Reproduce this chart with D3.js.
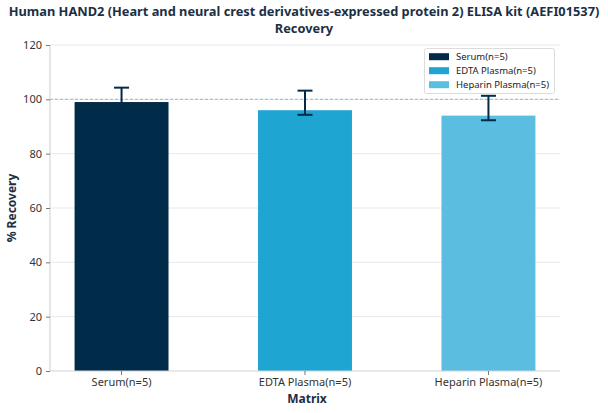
<!DOCTYPE html>
<html>
<head>
<meta charset="utf-8">
<script src="https://cdn.jsdelivr.net/npm/d3@7"></script>
<style>
  html, body { margin: 0; padding: 0; background: #fff; }
  svg { display: block; font-family: "Noto Sans", "Open Sans", sans-serif; }
</style>
</head>
<body>
<svg id="chart" width="608" height="413"></svg>
<script>
const categories = ["Serum(n=5)", "EDTA Plasma(n=5)", "Heparin Plasma(n=5)"];
const values = [99, 96, 94];
const errLow = [94, 94.3, 92.3];
const errHigh = [104.3, 103.2, 101.3];
const colors = ["#002b49", "#1fa5d2", "#5bbde0"];
const yTicks = [0, 20, 40, 60, 80, 100, 120];
const titleLines = ["Human HAND2 (Heart and neural crest derivatives-expressed protein 2) ELISA kit (AEFI01537)", "Recovery"];
const xLabel = "Matrix";
const yLabel = "% Recovery";
const refValue = 100;

(function () {
const svg = d3.select("#chart");
const pLeft = 50, pRight = 560, pTop = 45, pBottom = 371;

const x = d3.scaleBand().domain(categories).range([pLeft, pRight])
  .paddingInner(0.488).paddingOuter(0.134);
const y = d3.scaleLinear().domain([0, 120]).range([pBottom, pTop]);

// gridlines
svg.append("g").selectAll("line").data(yTicks.filter(d => d > 0)).join("line")
  .attr("x1", pLeft).attr("x2", pRight)
  .attr("y1", d => y(d)).attr("y2", d => y(d))
  .attr("stroke", "#e4e8ee").attr("stroke-width", 1);

// bars
svg.append("g").selectAll("rect").data(categories).join("rect")
  .attr("x", d => x(d)).attr("width", x.bandwidth())
  .attr("y", (d, i) => y(values[i])).attr("height", (d, i) => y(0) - y(values[i]))
  .attr("fill", (d, i) => colors[i]);

// reference line
svg.append("line")
  .attr("x1", pLeft).attr("x2", pRight)
  .attr("y1", y(refValue)).attr("y2", y(refValue))
  .attr("stroke", "#86bfd4").attr("stroke-width", 1).attr("stroke-dasharray", "3,2");

// error bars
const eb = svg.append("g").attr("stroke", "#032b48").attr("stroke-width", 2);
categories.forEach((c, i) => {
  const cx = x(c) + x.bandwidth() / 2;
  eb.append("line").attr("x1", cx).attr("x2", cx).attr("y1", y(errLow[i])).attr("y2", y(errHigh[i]));
  eb.append("line").attr("x1", cx - 7.5).attr("x2", cx + 7.5).attr("y1", y(errLow[i])).attr("y2", y(errLow[i]));
  eb.append("line").attr("x1", cx - 7.5).attr("x2", cx + 7.5).attr("y1", y(errHigh[i])).attr("y2", y(errHigh[i]));
});

// axes
const yAxis = svg.append("g").attr("transform", `translate(${pLeft},0)`)
  .call(d3.axisLeft(y).tickValues(yTicks).tickSize(4).tickPadding(4));
const xAxis = svg.append("g").attr("transform", `translate(0,${pBottom})`)
  .call(d3.axisBottom(x).tickSize(4).tickPadding(3));
[yAxis, xAxis].forEach(a => {
  a.select(".domain").attr("stroke", "#d0d4d8").attr("stroke-width", 1.2);
  a.selectAll(".tick line").attr("stroke", "#777");
  a.selectAll(".tick text").attr("fill", "#333").attr("font-size", 11)
    .attr("font-family", "'Noto Sans', sans-serif");
});
xAxis.select(".domain").attr("d", `M${pLeft},0H${pRight}`);
yAxis.select(".domain").attr("d", `M0,${pBottom}V${pTop}`);

// axis titles
svg.append("text").attr("x", (pLeft + pRight) / 2 + 2).attr("y", 403)
  .attr("text-anchor", "middle").attr("font-size", 12).attr("font-weight", "bold")
  .attr("fill", "#1b2f45").text(xLabel);
svg.append("text").attr("transform", `translate(16,${(pTop + pBottom) / 2}) rotate(-90)`)
  .attr("text-anchor", "middle").attr("font-size", 12).attr("font-weight", "bold")
  .attr("fill", "#1b2f45").text(yLabel);

// title
titleLines.forEach((t, i) => {
  svg.append("text").attr("x", 304).attr("y", 15.5 + i * 17.5)
    .attr("text-anchor", "middle").attr("font-size", 12.8).attr("font-weight", "bold")
    .attr("fill", "#1b2f45").text(t);
});

// legend
const lg = svg.append("g");
lg.append("rect").attr("x", 424.5).attr("y", 48.5).attr("width", 130).attr("height", 45)
  .attr("fill", "#fff").attr("fill-opacity", 0.9).attr("stroke", "#dcdcdc").attr("rx", 2);
categories.forEach((c, i) => {
  const cy = 56.7 + i * 14;
  lg.append("rect").attr("x", 429).attr("y", cy - 3.5).attr("width", 20).attr("height", 7).attr("fill", colors[i]);
  lg.append("text").attr("x", 456).attr("y", cy).attr("dy", "0.35em")
    .attr("font-size", 9.5).attr("fill", "#222").text(c);
});
})();
</script>
</body>
</html>
